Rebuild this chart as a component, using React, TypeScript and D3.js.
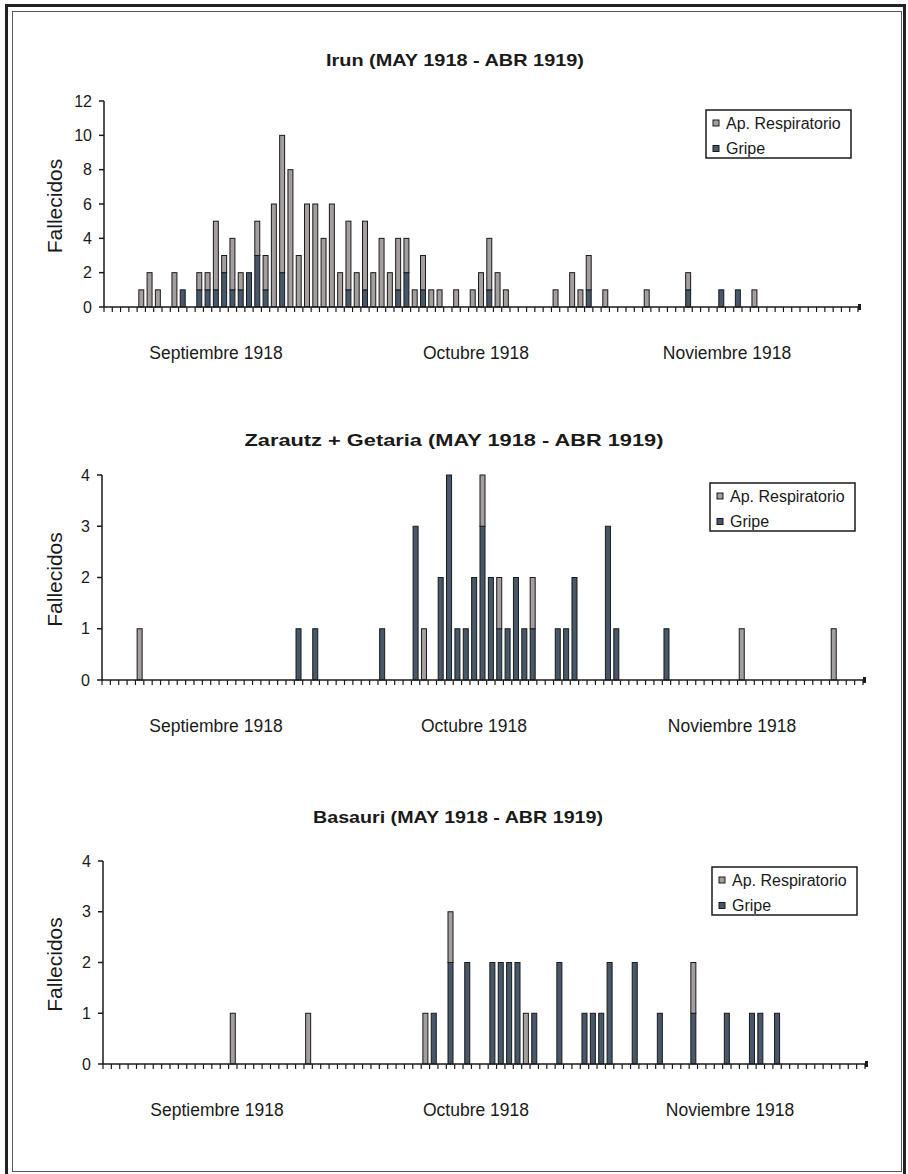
import React from "react";
import * as d3 from "d3";

// one value per day, 1 Sep - 30 Nov 1918 (30 + 31 + 30 days)
const months = ["Septiembre 1918", "Octubre 1918", "Noviembre 1918"];
const monthDays = [30, 31, 30];
const seriesNames = ["Ap. Respiratorio", "Gripe"];

const irunGripe = [
  0, 0, 0, 0, 0, 0, 0, 0, 0, 1, 0, 1, 1, 1, 2, 1, 1, 2, 3, 1, 0, 2, 0, 0, 0, 0, 0, 0, 0, 1,
  0, 1, 0, 0, 0, 1, 2, 0, 1, 0, 0, 0, 0, 0, 0, 0, 1, 0, 0, 0, 0, 0, 0, 0, 0, 0, 0, 0, 1, 0, 0,
  0, 0, 0, 0, 0, 0, 0, 0, 0, 1, 0, 0, 0, 1, 0, 1, 0, 0, 0, 0, 0, 0, 0, 0, 0, 0, 0, 0, 0, 0,
];
const irunResp = [
  0, 0, 0, 0, 1, 2, 1, 0, 2, 0, 0, 1, 1, 4, 1, 3, 1, 0, 2, 2, 6, 8, 8, 3, 6, 6, 4, 6, 2, 4,
  2, 4, 2, 4, 2, 3, 2, 1, 2, 1, 1, 0, 1, 0, 1, 2, 3, 2, 1, 0, 0, 0, 0, 0, 1, 0, 2, 1, 2, 0, 1,
  0, 0, 0, 0, 1, 0, 0, 0, 0, 1, 0, 0, 0, 0, 0, 0, 0, 1, 0, 0, 0, 0, 0, 0, 0, 0, 0, 0, 0, 0,
];

const zarautzGripe = [
  0, 0, 0, 0, 0, 0, 0, 0, 0, 0, 0, 0, 0, 0, 0, 0, 0, 0, 0, 0, 0, 0, 0, 1, 0, 1, 0, 0, 0, 0,
  0, 0, 0, 1, 0, 0, 0, 3, 0, 0, 2, 4, 1, 1, 2, 3, 2, 1, 1, 2, 1, 1, 0, 0, 1, 1, 2, 0, 0, 0, 3,
  1, 0, 0, 0, 0, 0, 1, 0, 0, 0, 0, 0, 0, 0, 0, 0, 0, 0, 0, 0, 0, 0, 0, 0, 0, 0, 0, 0, 0, 0,
];
const zarautzResp = [
  0, 0, 0, 0, 1, 0, 0, 0, 0, 0, 0, 0, 0, 0, 0, 0, 0, 0, 0, 0, 0, 0, 0, 0, 0, 0, 0, 0, 0, 0,
  0, 0, 0, 0, 0, 0, 0, 0, 1, 0, 0, 0, 0, 0, 0, 1, 0, 1, 0, 0, 0, 1, 0, 0, 0, 0, 0, 0, 0, 0, 0,
  0, 0, 0, 0, 0, 0, 0, 0, 0, 0, 0, 0, 0, 0, 0, 1, 0, 0, 0, 0, 0, 0, 0, 0, 0, 0, 1, 0, 0, 0,
];

const basauriGripe = [
  0, 0, 0, 0, 0, 0, 0, 0, 0, 0, 0, 0, 0, 0, 0, 0, 0, 0, 0, 0, 0, 0, 0, 0, 0, 0, 0, 0, 0, 0,
  0, 0, 0, 0, 0, 0, 0, 0, 0, 1, 0, 2, 0, 2, 0, 0, 2, 2, 2, 2, 0, 1, 0, 0, 2, 0, 0, 1, 1, 1, 2,
  0, 0, 2, 0, 0, 1, 0, 0, 0, 1, 0, 0, 0, 1, 0, 0, 1, 1, 0, 1, 0, 0, 0, 0, 0, 0, 0, 0, 0, 0,
];
const basauriResp = [
  0, 0, 0, 0, 0, 0, 0, 0, 0, 0, 0, 0, 0, 0, 0, 1, 0, 0, 0, 0, 0, 0, 0, 0, 1, 0, 0, 0, 0, 0,
  0, 0, 0, 0, 0, 0, 0, 0, 1, 0, 0, 1, 0, 0, 0, 0, 0, 0, 0, 0, 1, 0, 0, 0, 0, 0, 0, 0, 0, 0, 0,
  0, 0, 0, 0, 0, 0, 0, 0, 0, 1, 0, 0, 0, 0, 0, 0, 0, 0, 0, 0, 0, 0, 0, 0, 0, 0, 0, 0, 0, 0,
];

const RESP = "#a59e9e";
const GRIPE = "#46586a";
const INK = "#1a1a1a";
const FONT = "'Liberation Sans', Arial, Helvetica, sans-serif";

const panels = [
  {
    title: "Irun (MAY 1918 - ABR 1919)", gripe: irunGripe, resp: irunResp, yMax: 12, yStep: 2,
    x0: 104, x1: 858, y0: 307, yTop: 101, titleY: 66, titleX: 455, titleW: 258,
    legend: { x: 706, y: 110 }, monthX: [216, 476, 727],
  },
  {
    title: "Zarautz + Getaria (MAY 1918 - ABR 1919)", gripe: zarautzGripe, resp: zarautzResp, yMax: 4, yStep: 1,
    x0: 102, x1: 863, y0: 680, yTop: 475, titleY: 446, titleX: 454, titleW: 419,
    legend: { x: 710, y: 483 }, monthX: [216, 474, 732],
  },
  {
    title: "Basauri (MAY 1918 - ABR 1919)", gripe: basauriGripe, resp: basauriResp, yMax: 4, yStep: 1,
    x0: 103, x1: 865, y0: 1064, yTop: 861, titleY: 823, titleX: 458, titleW: 290,
    legend: { x: 712, y: 867 }, monthX: [217, 476, 730],
  },
];

const Panel = ({ p }) => {
  const nDays = d3.sum(monthDays);
  const x = d3.scaleBand().domain(d3.range(nDays)).range([p.x0, p.x1]).paddingInner(0.4).paddingOuter(0.2);
  const y = d3.scaleLinear().domain([0, p.yMax]).range([p.y0, p.yTop]);
  const rows = d3.range(nDays).map((i) => ({ day: i, gripe: p.gripe[i], resp: p.resp[i] }));
  const stacked = d3.stack().keys(["gripe", "resp"])(rows);
  const colors = { gripe: GRIPE, resp: RESP };
  const edge = (i) => p.x0 + i * x.step();
  const monthEdges = d3.cumsum(monthDays);
  const yTicks = d3.range(0, p.yMax + 1, p.yStep);

  return (
    <g>
      <text x={p.titleX} y={p.titleY} textAnchor="middle" fontWeight="bold" fontSize={17}
        textLength={p.titleW} lengthAdjust="spacingAndGlyphs">{p.title}</text>

      <text transform={`translate(62, ${(p.y0 + p.yTop) / 2 + 2}) rotate(-90)`} textAnchor="middle" fontSize={21}>
        Fallecidos
      </text>

      {stacked.map((layer) =>
        layer.filter((d) => d[1] > d[0]).map((d) => (
          <rect key={layer.key + d.data.day} x={x(d.data.day)} width={x.bandwidth()}
            y={y(d[1])} height={y(d[0]) - y(d[1])}
            fill={colors[layer.key]} stroke={INK} strokeWidth={1} />
        ))
      )}

      {/* y axis */}
      <line x1={p.x0} x2={p.x0} y1={p.y0} y2={p.yTop} stroke={INK} strokeWidth={1.5} />
      {yTicks.map((t) => (
        <g key={t}>
          <line x1={p.x0 - 5} x2={p.x0} y1={y(t)} y2={y(t)} stroke={INK} strokeWidth={1.5} />
          <text x={p.x0 - 12} y={y(t)} dy="0.35em" textAnchor="end" fontSize={16}>{t}</text>
        </g>
      ))}

      {/* x axis */}
      <line x1={p.x0} x2={p.x1} y1={p.y0} y2={p.y0} stroke={INK} strokeWidth={1.5} />
      {d3.range(nDays + 1).map((i) => (
        <line key={i} x1={edge(i)} x2={edge(i)} y1={p.y0} y2={p.y0 + 5} stroke={INK} strokeWidth={1.2} />
      ))}
      {monthEdges.slice(0, -1).map((m) => (
        <line key={m} x1={edge(m)} x2={edge(m)} y1={p.y0} y2={p.y0 + 22} stroke={INK} strokeWidth={1.5} />
      ))}
      <rect x={p.x1} y={p.y0 - 3} width={3} height={6} fill={INK} />
      {months.map((m, i) => (
        <text key={m} x={p.monthX[i]} y={p.y0 + 52} textAnchor="middle" fontSize={17.5}>{m}</text>
      ))}

      {/* legend */}
      <g transform={`translate(${p.legend.x}, ${p.legend.y})`}>
        <rect width={145} height={48} fill="#fff" stroke={INK} strokeWidth={1.5} />
        {seriesNames.map((s, i) => (
          <g key={s} transform={`translate(0, ${13 + i * 25.5})`}>
            <rect x={7} y={-3} width={6} height={6} fill={i === 0 ? RESP : GRIPE} stroke={INK} strokeWidth={1} />
            <text x={20} y={0} dy="0.35em" fontSize={16}>{s}</text>
          </g>
        ))}
      </g>
    </g>
  );
};

export default function App() {
  return (
    <svg width={908} height={1174} style={{ position: "absolute", left: 0, top: 0, background: "#fff" }}
      fontFamily={FONT} fill={INK}>
      <rect x={0} y={0} width={908} height={1174} fill="#fff" />
      <rect x={6.5} y={5.5} width={898} height={1172} fill="none" stroke="#222" strokeWidth={3} />
      <rect x={12.5} y={11.5} width={889} height={1160} fill="none" stroke="#555" strokeWidth={1} />
      {panels.map((p) => (
        <Panel key={p.title} p={p} />
      ))}
    </svg>
  );
}
